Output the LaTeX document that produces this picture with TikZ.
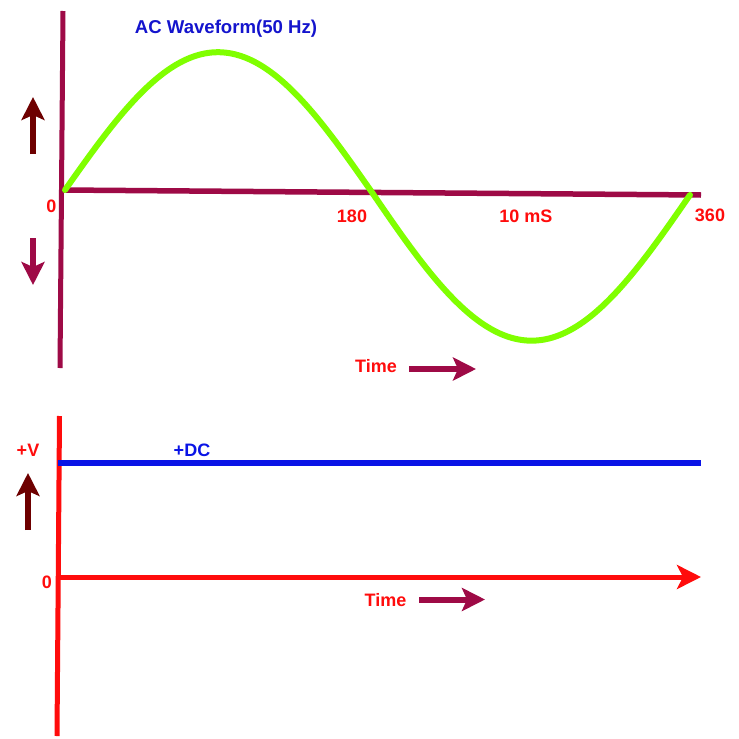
\documentclass[tikz,border=0pt]{standalone}
\usepackage{fontspec}
\setmainfont{Liberation Sans}
\usetikzlibrary{arrows.meta}
\definecolor{axisM}{RGB}{158,10,70}
\definecolor{darkR}{RGB}{110,0,0}
\definecolor{grn}{RGB}{128,255,0}
\definecolor{redL}{RGB}{255,12,12}
\definecolor{blueL}{RGB}{10,20,230}
\definecolor{titleB}{RGB}{20,20,205}
\tikzset{
  lbl/.style={font=\bfseries\fontsize{18}{20}\selectfont, inner sep=0pt, anchor=base},
  redlbl/.style={lbl, text=redL},
  bluelbl/.style={lbl, text=blueL},
  fatarrow/.style={line width=6pt, -{Stealth[length=23pt,width=23pt,inset=5pt]}},
}
\begin{document}
\begin{tikzpicture}[x=1pt,y=-1pt]
\useasboundingbox (0,0) rectangle (739,739);
\fill[white] (0,0) rectangle (739,739);
% ---------- top panel ----------
\coordinate (vt) at (63,11);
\coordinate (vb) at (60,368);
\coordinate (h0) at (62,190);
\coordinate (h1) at (701,195);
\draw[axisM, line width=5pt] (vt) -- (vb);
\draw[axisM, line width=5.5pt] (h0) -- (h1);
\draw[grn, line width=6pt, line cap=round, line join=round]
  plot[domain=65:372, samples=120] (\x, {190+(\x-64)/637*5 - 139*sin((\x-65)/307*180)})
  -- plot[domain=372:690, samples=120] (\x, {190+(\x-64)/637*5 + 147*sin((\x-372)/318*180)});
\node[lbl, text=titleB, font=\bfseries\fontsize{18.6}{20}\selectfont] (title) at (226,33) {AC Waveform(50 Hz)};
\coordinate (ua0) at (33,154);
\coordinate (ua1) at (33,97);
\draw[darkR, fatarrow] (ua0) -- (ua1);
\coordinate (da0) at (33,238);
\coordinate (da1) at (33,285);
\draw[axisM, fatarrow] (da0) -- (da1);
\node[redlbl] (z1) at (51.5,212) {0};
\node[redlbl] (l180) at (352,222) {180};
\node[redlbl] (l10) at (526,222) {10 mS};
\node[redlbl] (l360) at (710,221) {360};
\node[redlbl] (t1) at (376,372) {Time};
\coordinate (ta0) at (409,369);
\coordinate (ta1) at (476,369);
\draw[axisM, fatarrow] (ta0) -- (ta1);
% ---------- bottom panel ----------
\coordinate (rvt) at (59.5,416);
\coordinate (rvb) at (57,736);
\draw[redL, line width=5pt] (rvt) -- (rvb);
\coordinate (b0) at (58,463);
\coordinate (b1) at (701,463);
\draw[blueL, line width=6pt] (b0) -- (b1);
\node[redlbl] (pv) at (28,456) {+V};
\node[bluelbl] (dc) at (192,456) {+DC};
\coordinate (ub0) at (28,530);
\coordinate (ub1) at (28,473);
\draw[darkR, fatarrow] (ub0) -- (ub1);
\node[redlbl] (z2) at (47,588) {0};
\coordinate (r0) at (58,577);
\coordinate (r1) at (701,577);
\draw[redL, line width=5pt, -{Stealth[length=24pt,width=24pt,inset=6pt]}] (r0) -- (r1);
\node[redlbl] (t2) at (385.5,606) {Time};
\coordinate (tb0) at (419,599.5);
\coordinate (tb1) at (485,599.5);
\draw[axisM, fatarrow] (tb0) -- (tb1);
\end{tikzpicture}
\end{document}
